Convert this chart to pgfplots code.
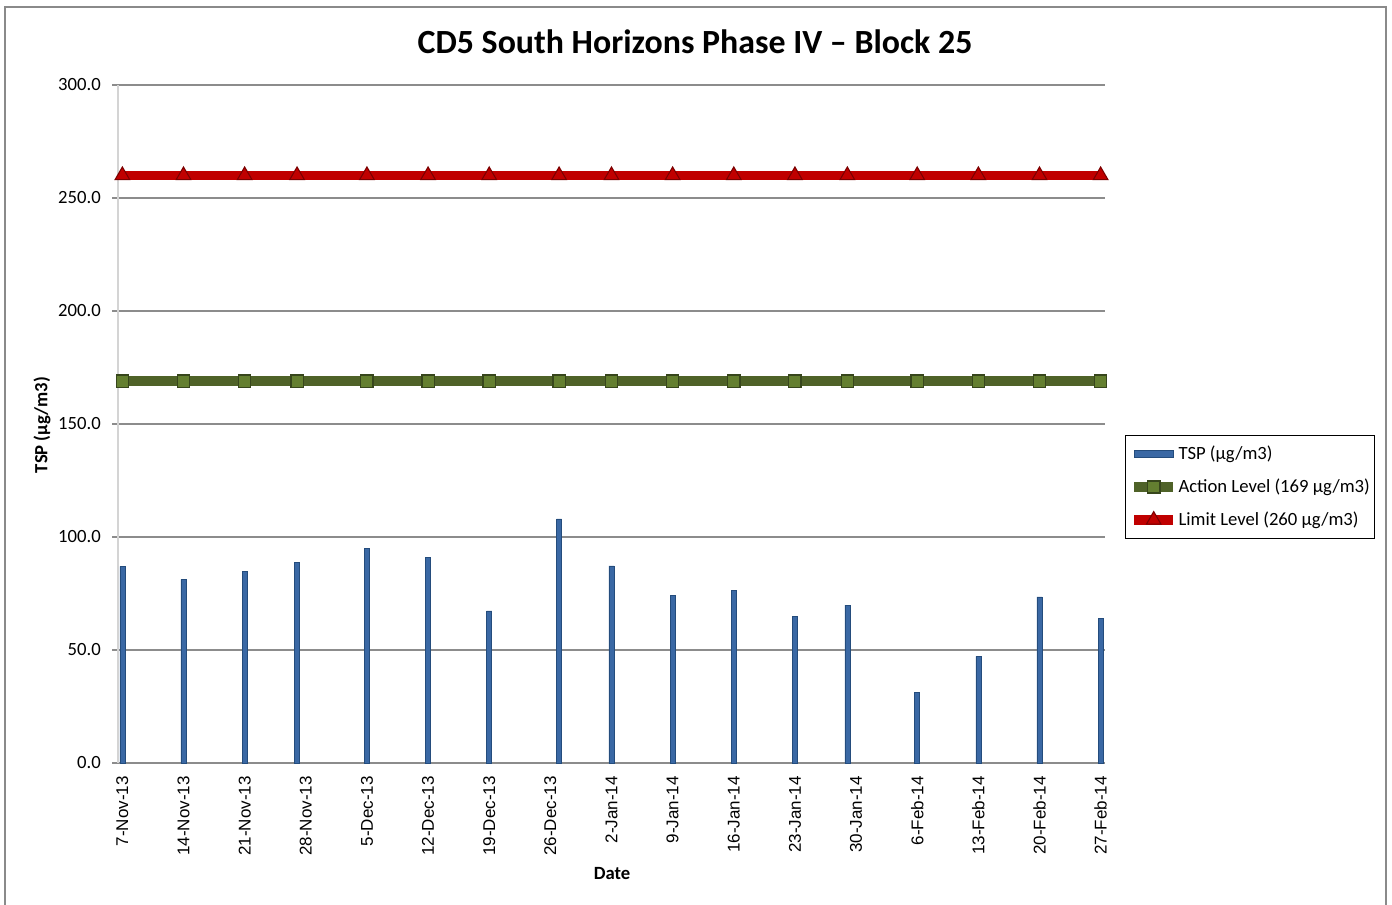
\documentclass[border=0pt]{standalone}
\usepackage{fontspec}
\setmainfont{Carlito}
\newfontfamily\arialfont{Liberation Sans}
\usepackage{pgfplots}
\pgfplotsset{compat=1.18}
\definecolor{barblue}{HTML}{3A68A4}
\definecolor{bardark}{HTML}{244C7C}
\definecolor{actgreen}{HTML}{4F6228}
\definecolor{actmark}{HTML}{647F30}
\definecolor{actdark}{HTML}{37461C}
\definecolor{limred}{HTML}{C00000}
\definecolor{limdark}{HTML}{7A0000}
\definecolor{gridgray}{HTML}{8C8C8C}
\definecolor{framegray}{HTML}{8A8A8A}
\definecolor{yaxisgray}{HTML}{D4D4D4}
\pgfplotsset{longline legend/.style={legend image code/.code={\draw[mark repeat=2,mark phase=2,##1] plot coordinates {(0pt,0pt) (14.5pt,0pt) (29pt,0pt)};}}}

\begin{document}
\begin{tikzpicture}
\useasboundingbox (0,0) rectangle (1044pt,678.75pt);
\draw[framegray, line width=1.2pt] (3.75pt,-5pt) rectangle (1039.5pt,673.5pt);
\begin{axis}[
  at={(88.5pt,106.5pt)}, anchor=south west,
  scale only axis, width=740.25pt, height=508.5pt,
  xmin=-0.5, xmax=112.5, ymin=0, ymax=300,
  clip=false,
  axis x line*=bottom, axis y line*=left,
  x axis line style={gridgray, line width=0.8pt, -},
  y axis line style={yaxisgray, line width=1.3pt, -},
  ymajorgrids, grid style={gridgray, line width=0.8pt},
  ytick={0,50,100,150,200,250,300},
  xtick={0,7,14,21,28,35,42,49,56,63,70,77,84,91,98,105,112},
  xticklabels={7-Nov-13,14-Nov-13,21-Nov-13,28-Nov-13,5-Dec-13,12-Dec-13,19-Dec-13,26-Dec-13,2-Jan-14,9-Jan-14,16-Jan-14,23-Jan-14,30-Jan-14,6-Feb-14,13-Feb-14,20-Feb-14,27-Feb-14},
  tick align=outside, major tick length=4.5pt,
  xtick style={draw=none},
  ytick style={gridgray, line width=0.8pt},
  /pgf/number format/fixed,
  /pgf/number format/fixed zerofill,
  /pgf/number format/precision=1,
  /pgf/number format/assume math mode=true,
  yticklabel style={font=\fontsize{14}{16}\selectfont, inner sep=0pt},
  yticklabel shift=8.25pt,
  xticklabel style={font=\arialfont\fontsize{12.75}{14}\selectfont, rotate=90, anchor=east, inner sep=0pt},
  xticklabel shift=5.25pt,
  legend cell align=left,
  legend style={at={(axis description cs:1.0203,0.4838)}, anchor=north west,
    draw=black, line width=0.8pt, font=\fontsize{14}{16}\selectfont,
    nodes={inner xsep=0.5pt}, column sep=0pt,
    row sep=9pt, inner xsep=3pt, inner ysep=6pt},
]
\addplot[ybar, bar width=3.8pt, fill=barblue, draw=bardark, line width=0.4pt,
  legend image code/.code={\draw[fill=barblue, draw=bardark, line width=0.4pt] (0pt,-2.8pt) rectangle (29pt,2.8pt);}]
coordinates {
(0,87.0) (7,81.3) (14,84.7) (20,88.9) (28,95.0) (35,90.9) (42,67.3) (50,108.0)
(56,87.2) (63,74.0) (70,76.5) (77,65.0) (83,69.8) (91,31.3) (98,47.2) (105,73.5) (112,64.0)
};
\addlegendentry{TSP (µg/m3)}
\addplot[actgreen, line width=7.2pt, mark=square*, mark size=4.6pt,
  mark options={fill=actmark, draw=actdark, line width=1pt},
  longline legend]
coordinates {
(0,169) (7,169) (14,169) (20,169) (28,169) (35,169) (42,169) (50,169)
(56,169) (63,169) (70,169) (77,169) (83,169) (91,169) (98,169) (105,169) (112,169)
};
\addlegendentry{Action Level (169 µg/m3)}
\addplot[limred, line width=7.2pt, mark=triangle*, mark size=6.3pt,
  mark options={fill=limred, draw=limdark, line width=0.8pt},
  longline legend]
coordinates {
(0,260) (7,260) (14,260) (20,260) (28,260) (35,260) (42,260) (50,260)
(56,260) (63,260) (70,260) (77,260) (83,260) (91,260) (98,260) (105,260) (112,260)
};
\addlegendentry{Limit Level (260 µg/m3)}
\end{axis}
\node[font=\bfseries\fontsize{25.4}{30}\selectfont] at (521.25pt,647.25pt) {CD5 South Horizons Phase IV – Block 25};
\node[rotate=90, font=\bfseries\fontsize{14}{16}\selectfont] at (31.5pt,360pt) {TSP (µg/m3)};
\node[font=\bfseries\fontsize{14}{16}\selectfont] at (459pt,23.25pt) {Date};
\end{tikzpicture}
\end{document}
